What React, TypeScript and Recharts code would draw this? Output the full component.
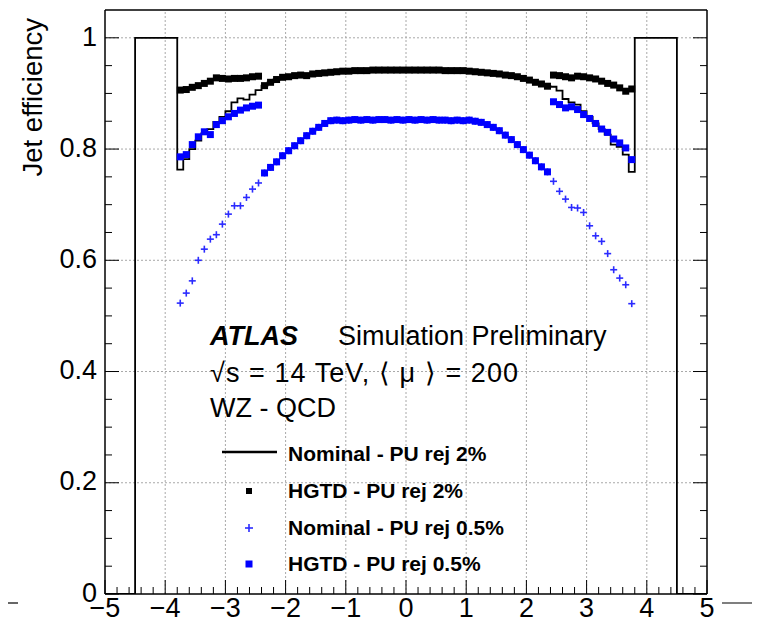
import React from 'react';
import { ComposedChart, Line, Scatter, XAxis, YAxis, ReferenceLine, Legend } from 'recharts';

// ---- categories (eta bin centres) ----
const etaLeftHGTD = [-3.75, -3.65, -3.55, -3.45, -3.35, -3.25, -3.15, -3.05, -2.95, -2.85, -2.75, -2.65, -2.55, -2.45];
const etaCentral = [
  -2.35, -2.25, -2.15, -2.05, -1.95, -1.85, -1.75, -1.65, -1.55, -1.45, -1.35, -1.25,
  -1.15, -1.05, -0.95, -0.85, -0.75, -0.65, -0.55, -0.45, -0.35, -0.25, -0.15, -0.05,
  0.05, 0.15, 0.25, 0.35, 0.45, 0.55, 0.65, 0.75, 0.85, 0.95, 1.05, 1.15,
  1.25, 1.35, 1.45, 1.55, 1.65, 1.75, 1.85, 1.95, 2.05, 2.15, 2.25, 2.35,
];
const etaRightHGTD = [2.45, 2.55, 2.65, 2.75, 2.85, 2.95, 3.05, 3.15, 3.25, 3.35, 3.45, 3.55, 3.65, 3.75];
const binWidth = 0.1;

// outer acceptance bins of the nominal histogram (lower edges and contents)
const outerLeftEdges = [-5, -4.5];
const outerLeftValues = [0, 1];
const outerRightEdges = [3.8, 4.5, 5];
const outerRightValues = [1, 0, 0];

// ---- series values ----
// |eta| < 2.4 : HGTD identical to nominal
const central2 = [
  0.914, 0.920, 0.925, 0.929, 0.930, 0.932, 0.933, 0.932, 0.935, 0.936, 0.937, 0.938,
  0.939, 0.940, 0.940, 0.941, 0.941, 0.941, 0.942, 0.942, 0.942, 0.942, 0.942, 0.942,
  0.942, 0.942, 0.942, 0.942, 0.942, 0.942, 0.941, 0.941, 0.941, 0.941, 0.940, 0.939,
  0.938, 0.937, 0.936, 0.935, 0.933, 0.932, 0.930, 0.927, 0.924, 0.920, 0.917, 0.913,
];
const central05 = [
  0.757, 0.767, 0.777, 0.788, 0.797, 0.806, 0.815, 0.824, 0.832, 0.839, 0.846, 0.851,
  0.852, 0.851, 0.852, 0.853, 0.852, 0.853, 0.852, 0.853, 0.853, 0.852, 0.853, 0.852,
  0.853, 0.852, 0.853, 0.852, 0.853, 0.852, 0.852, 0.851, 0.852, 0.851, 0.852, 0.850,
  0.848, 0.844, 0.839, 0.833, 0.825, 0.817, 0.808, 0.799, 0.789, 0.779, 0.768, 0.759,
];

const nominal2Left = [0.763, 0.782, 0.800, 0.815, 0.828, 0.836, 0.849, 0.858, 0.868, 0.884, 0.891, 0.889, 0.898, 0.906];
const nominal2Right = [0.912, 0.905, 0.890, 0.884, 0.880, 0.868, 0.858, 0.846, 0.836, 0.826, 0.808, 0.804, 0.790, 0.759];

const hgtd2Left = [0.906, 0.907, 0.911, 0.914, 0.918, 0.922, 0.928, 0.927, 0.926, 0.927, 0.927, 0.928, 0.930, 0.931];
const hgtd2Right = [0.933, 0.932, 0.930, 0.928, 0.931, 0.930, 0.928, 0.926, 0.922, 0.918, 0.915, 0.910, 0.904, 0.908];

const nominal05Left = [0.523, 0.541, 0.563, 0.600, 0.620, 0.638, 0.646, 0.665, 0.683, 0.698, 0.698, 0.713, 0.728, 0.739];
const nominal05Right = [0.742, 0.724, 0.710, 0.695, 0.694, 0.686, 0.662, 0.644, 0.634, 0.612, 0.583, 0.568, 0.556, 0.522];

const hgtd05Left = [0.786, 0.790, 0.808, 0.822, 0.831, 0.826, 0.844, 0.851, 0.858, 0.864, 0.870, 0.874, 0.877, 0.879];
const hgtd05Right = [0.885, 0.880, 0.874, 0.876, 0.871, 0.862, 0.855, 0.846, 0.836, 0.830, 0.818, 0.811, 0.802, 0.781];

// ---- tick labels ----
const xTicks = [
  -5, -4.8, -4.6, -4.4, -4.2, -4, -3.8, -3.6, -3.4, -3.2, -3, -2.8, -2.6, -2.4, -2.2,
  -2, -1.8, -1.6, -1.4, -1.2, -1, -0.8, -0.6, -0.4, -0.2, 0, 0.2, 0.4, 0.6, 0.8,
  1, 1.2, 1.4, 1.6, 1.8, 2, 2.2, 2.4, 2.6, 2.8, 3, 3.2, 3.4, 3.6, 3.8, 4, 4.2, 4.4, 4.6, 4.8, 5,
];
const xMajor = [-5, -4, -3, -2, -1, 0, 1, 2, 3, 4, 5];
const yTicks = [0, 0.05, 0.1, 0.15, 0.2, 0.25, 0.3, 0.35, 0.4, 0.45, 0.5, 0.55, 0.6, 0.65, 0.7, 0.75, 0.8, 0.85, 0.9, 0.95, 1];
const yMajor = [0, 0.2, 0.4, 0.6, 0.8, 1];

const seriesNames = [
  'Nominal - PU rej 2%',
  'HGTD - PU rej 2%',
  'Nominal - PU rej 0.5%',
  'HGTD - PU rej 0.5%',
];

// ---- build tables ----
const zip = (xs: number[], ys: number[]) => xs.map((x, i) => ({ x, y: ys[i] }));

const stepData = [
  ...zip(outerLeftEdges, outerLeftValues),
  ...zip(etaLeftHGTD.map((c) => +(c - binWidth / 2).toFixed(2)), nominal2Left),
  ...zip(etaCentral.map((c) => +(c - binWidth / 2).toFixed(2)), central2),
  ...zip(etaRightHGTD.map((c) => +(c - binWidth / 2).toFixed(2)), nominal2Right),
  ...zip(outerRightEdges, outerRightValues),
];
const hgtd2Data = [...zip(etaLeftHGTD, hgtd2Left), ...zip(etaCentral, central2), ...zip(etaRightHGTD, hgtd2Right)];
const nominal05Data = [...zip(etaLeftHGTD, nominal05Left), ...zip(etaCentral, central05), ...zip(etaRightHGTD, nominal05Right)];
const hgtd05Data = [...zip(etaLeftHGTD, hgtd05Left), ...zip(etaCentral, central05), ...zip(etaRightHGTD, hgtd05Right)];

const W = 752;
const H = 615;
const FONT = '"Liberation Sans", Arial, Helvetica, sans-serif';
const BLUE = '#0000ff';
const GRID = '#a8a8a8';

const isXMajor = (v: number) => Math.abs(v - Math.round(v)) < 1e-6;
const isYMajor = (v: number) => Math.abs(v * 5 - Math.round(v * 5)) < 1e-6;
const fmtX = (v: number) => (v < 0 ? '\u2212' + Math.abs(Math.round(v)) : String(Math.round(v)));
const fmtY = (v: number) => (Math.abs(v) < 1e-9 ? '0' : Math.abs(v - 1) < 1e-9 ? '1' : v.toFixed(1));

const MAJ = 14;
const MIN = 7;

const BottomTick = (p: any) => {
  const v = p.payload.value;
  const maj = isXMajor(v);
  return (
    <g>
      <line x1={p.x} x2={p.x} y1={p.y} y2={p.y - (maj ? MAJ : MIN)} stroke="#000" strokeWidth={1} />
      {maj && (
        <text x={p.x} y={p.y + 23} textAnchor="middle" fontFamily={FONT} fontSize={27} fill="#000">
          {fmtX(v)}
        </text>
      )}
    </g>
  );
};
const TopTick = (p: any) => {
  const v = p.payload.value;
  const maj = isXMajor(v);
  return <line x1={p.x} x2={p.x} y1={p.y} y2={p.y + (maj ? MAJ : MIN)} stroke="#000" strokeWidth={1} />;
};
const LeftTick = (p: any) => {
  const v = p.payload.value;
  const maj = isYMajor(v);
  return (
    <g>
      <line x1={p.x} x2={p.x + (maj ? MAJ : MIN)} y1={p.y} y2={p.y} stroke="#000" strokeWidth={1} />
      {maj && (
        <text x={p.x - 8} y={p.y - 2} dy="0.36em" textAnchor="end" fontFamily={FONT} fontSize={27} fill="#000">
          {fmtY(v)}
        </text>
      )}
    </g>
  );
};
const RightTick = (p: any) => {
  const v = p.payload.value;
  const maj = isYMajor(v);
  return <line x1={p.x} x2={p.x - (maj ? MAJ : MIN)} y1={p.y} y2={p.y} stroke="#000" strokeWidth={1} />;
};

const BlackSquare = (p: any) => <rect x={p.cx - 3.5} y={p.cy - 3.5} width={7} height={7} fill="#000" />;
const BlueSquare = (p: any) => <rect x={p.cx - 3.5} y={p.cy - 3.5} width={7} height={7} fill={BLUE} />;
const BlueCross = (p: any) => (
  <g stroke="#2b2bff" strokeWidth={1.6}>
    <line x1={p.cx - 3.5} x2={p.cx + 3.5} y1={p.cy} y2={p.cy} />
    <line x1={p.cx} x2={p.cx} y1={p.cy - 3.5} y2={p.cy + 3.5} />
  </g>
);

const legendMarker = (name: string) => {
  const i = seriesNames.indexOf(name);
  if (i === 0) return <line x1={7} x2={62} y1={16} y2={16} stroke="#000" strokeWidth={2.5} />;
  if (i === 1) return <rect x={31} y={15} width={6} height={6} fill="#000" />;
  if (i === 2)
    return (
      <g stroke="#2b2bff" strokeWidth={1.6}>
        <line x1={30} x2={38} y1={18} y2={18} />
        <line x1={34} x2={34} y1={14} y2={22} />
      </g>
    );
  return <rect x={30.5} y={14.5} width={7} height={7} fill={BLUE} />;
};

const LegendContent = () => (
  <div style={{ fontFamily: FONT }}>
    {seriesNames.map((n) => (
      <div key={n} style={{ display: 'flex', alignItems: 'center', height: 36.7 }}>
        <svg width={73} height={36} style={{ flex: 'none' }}>
          {legendMarker(n)}
        </svg>
        <span style={{ fontWeight: 'bold', fontSize: 21, color: '#000', whiteSpace: 'nowrap', lineHeight: '36px' }}>{n}</span>
      </div>
    ))}
  </div>
);

export default function App() {
  return (
    <div style={{ position: 'relative', width: W, height: H }}>
      <ComposedChart width={W} height={H} margin={{ top: 0, right: 0, bottom: 0, left: 0 }}>
        <XAxis
          xAxisId="b"
          dataKey="x"
          type="number"
          domain={[-5, 5]}
          allowDataOverflow
          ticks={xTicks}
          interval={0}
          orientation="bottom"
          height={29}
          tickSize={0}
          tickMargin={0}
          tickLine={false}
          tick={<BottomTick />}
          axisLine={{ stroke: '#000', strokeWidth: 1.5 }}
        />
        <XAxis
          xAxisId="t"
          type="number"
          domain={[-5, 5]}
          allowDataOverflow
          ticks={xTicks}
          interval={0}
          orientation="top"
          height={2}
          tickSize={0}
          tickMargin={0}
          tickLine={false}
          tick={<TopTick />}
          axisLine={{ stroke: '#000', strokeWidth: 1.5 }}
        />
        <YAxis
          yAxisId="l"
          dataKey="y"
          type="number"
          domain={[0, 1.05]}
          allowDataOverflow
          ticks={yTicks}
          interval={0}
          orientation="left"
          width={97}
          tickSize={0}
          tickMargin={0}
          tickLine={false}
          tick={<LeftTick />}
          axisLine={{ stroke: '#000', strokeWidth: 1.5 }}
        />
        <YAxis
          yAxisId="r"
          type="number"
          domain={[0, 1.05]}
          allowDataOverflow
          ticks={yTicks}
          interval={0}
          orientation="right"
          width={53}
          tickSize={0}
          tickMargin={0}
          tickLine={false}
          tick={<RightTick />}
          axisLine={{ stroke: '#000', strokeWidth: 1.5 }}
        />
        {xMajor.slice(1, -1).map((v) => (
          <ReferenceLine key={'gx' + v} x={v} xAxisId="b" yAxisId="l" stroke={GRID} strokeDasharray="2 2" strokeWidth={1} />
        ))}
        {yMajor.slice(1).map((v) => (
          <ReferenceLine key={'gy' + v} y={v} xAxisId="b" yAxisId="l" stroke={GRID} strokeDasharray="2 2" strokeWidth={1} />
        ))}
        <Line
          name={seriesNames[0]}
          data={stepData}
          dataKey="y"
          xAxisId="b"
          yAxisId="l"
          type="stepAfter"
          stroke="#000"
          strokeWidth={1.8}
          dot={false}
          isAnimationActive={false}
        />
        <Scatter name={seriesNames[1]} data={hgtd2Data} dataKey="y" xAxisId="b" yAxisId="l" shape={BlackSquare} isAnimationActive={false} />
        <Scatter name={seriesNames[2]} data={nominal05Data} dataKey="y" xAxisId="b" yAxisId="l" shape={BlueCross} isAnimationActive={false} />
        <Scatter name={seriesNames[3]} data={hgtd05Data} dataKey="y" xAxisId="b" yAxisId="l" shape={BlueSquare} isAnimationActive={false} />
        <Legend
          layout="vertical"
          align="center"
          verticalAlign="middle"
          content={<LegendContent />}
          wrapperStyle={{ position: 'absolute', left: 207, top: 428, width: 320, height: 150 }}
        />
      </ComposedChart>
      <svg
        width={W}
        height={H}
        style={{ position: 'absolute', left: 0, top: 0, overflow: 'visible', pointerEvents: 'none' }}
      >
        <text
          transform="translate(34,10) rotate(-90)"
          textAnchor="end"
          fontFamily={FONT}
          fontSize={27.5}
          fill="#000"
        >
          Jet efficiency
        </text>
        <text x={202} y={337} fontFamily={FONT} fontSize={27} fontWeight="bold" fontStyle="italic" fill="#000">
          ATLAS
        </text>
        <text x={330} y={337} fontFamily={FONT} fontSize={27} fill="#000">
          Simulation Preliminary
        </text>
        <text x={202} y={374} fontFamily={FONT} fontSize={27} fill="#000" textLength={308} lengthAdjust="spacing">
          {'\u221As = 14 TeV, \u27E8 \u03BC \u27E9 = 200'}
        </text>
        <text x={202} y={409} fontFamily={FONT} fontSize={27} fill="#000">
          WZ - QCD
        </text>
        <line x1={-8} x2={10} y1={595} y2={595} stroke="#000" strokeWidth={1.2} />
        <line x1={714} x2={752} y1={595} y2={595} stroke="#000" strokeWidth={1.2} />
      </svg>
    </div>
  );
}
